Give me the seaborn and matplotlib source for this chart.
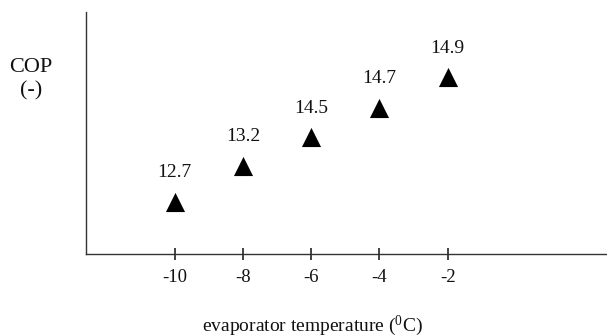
import pandas as pd
import matplotlib.pyplot as plt
import seaborn as sns

# evaporator temperature (C) and COP
evap_temp = [-10, -8, -6, -4, -2]
cop = [12.7, 13.2, 14.5, 14.7, 14.9]
# the chart is schematic: marker heights (0..1 of the axis)
marker_height = [0.215, 0.364, 0.483, 0.603, 0.731]
tick_values = [-10, -8, -6, -4, -2]
tick_labels = ["-10", "-8", "-6", "-4", "-2"]

df = pd.DataFrame({"temp": evap_temp, "cop": cop, "h": marker_height})

sns.set_theme(style="white")
plt.rcParams['font.family'] = ['Liberation Serif', 'DejaVu Serif']
plt.rcParams['mathtext.fontset'] = 'custom'
plt.rcParams['mathtext.rm'] = 'Liberation Serif'

fig = plt.figure(figsize=(6.07, 3.36), dpi=100)
ax = fig.add_axes([0.1417, 0.244, 0.86, 0.720])

sns.scatterplot(data=df, x="temp", y="h", marker="^", s=190, color="black",
                edgecolor="black", linewidth=0, ax=ax, legend=False)

for t, h, c in zip(evap_temp, marker_height, cop):
    ax.annotate(f"{c:.1f}", (t, h), xytext=(0, 21), textcoords="offset points",
                ha="center", va="center", fontsize=14, color="#111111")

ax.set_xlim(-12.6, 2.7)
ax.set_ylim(0, 1)
ax.set_xticks(tick_values, tick_labels, fontsize=13.5)
ax.set_yticks([])
ax.tick_params(axis="x", bottom=True, direction="inout", length=9, width=1.2,
               color="#222222", labelcolor="#111111", pad=6)

for side in ["top", "right"]:
    ax.spines[side].set_visible(False)
for side in ["left", "bottom"]:
    ax.spines[side].set_color("#333333")
    ax.spines[side].set_linewidth(1)

ax.set_xlabel(r"evaporator temperature ($\mathrm{^0}$C)", fontsize=14, color="#111111")
ax.xaxis.set_label_coords(0.434, -0.295)
ax.xaxis.label.set_va("center")
ax.set_ylabel("")

fig.text(31 / 607, 1 - 79 / 336, "COP\n(-)", ha="center", va="center",
         multialignment="center", fontsize=16, color="#111111", linespacing=1.3)

plt.savefig("out.png", dpi=100)
plt.close()
